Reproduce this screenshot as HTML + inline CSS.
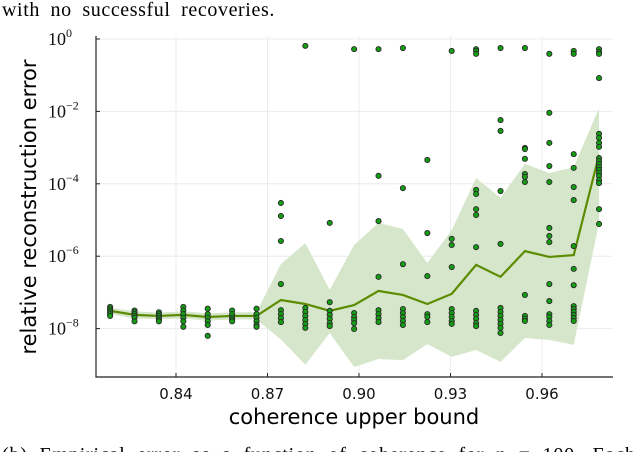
<!DOCTYPE html>
<html><head><meta charset="utf-8"><style>
html,body{margin:0;padding:0;background:#fff;width:640px;height:452px;overflow:hidden}
svg{display:block}
.serif{font-family:"Liberation Serif",serif}
.sans{font-family:"DejaVu Sans","Liberation Sans",sans-serif}
</style></head><body>
<svg id="chart" width="640" height="452" xmlns="http://www.w3.org/2000/svg">
<text class="serif" x="2" y="16" font-size="20" word-spacing="5" letter-spacing="0.6">with no successful recoveries.</text>
<text class="serif" x="2" y="461" font-size="20" word-spacing="6" letter-spacing="0.8">(b) Empirical error as a function of coherence for n = 100. Each dot</text>
<g id="grid"></g><g id="band"></g><g id="line"></g><g id="dots"></g><g id="axes"></g>
<text class="sans" x="354" y="424" font-size="21" text-anchor="middle">coherence upper bound</text>
<text class="sans" transform="translate(36,207) rotate(-90)" font-size="21" text-anchor="middle">relative reconstruction error</text>
</svg>
<script>
const xTicks=[0.84,0.87,0.90,0.93,0.96];
const yTicks=[0,-2,-4,-6,-8];
const coherence=[0.8184,0.8264,0.8344,0.8424,0.8504,0.8584,0.8664,0.8744,0.8824,0.8904,0.8984,0.9064,0.9144,0.9224,0.9304,0.9384,0.9464,0.9544,0.9624,0.9704,0.9787];
const medianLog=[-7.51,-7.62,-7.65,-7.62,-7.68,-7.65,-7.65,-7.21,-7.32,-7.51,-7.35,-6.96,-7.07,-7.32,-7.04,-6.24,-6.57,-5.86,-6.02,-5.97,-3.20];
const upperLog=[-7.42,-7.52,-7.56,-7.52,-7.58,-7.55,-7.55,-6.22,-5.64,-6.93,-5.69,-5.08,-5.25,-6.19,-5.28,-3.84,-4.39,-3.45,-3.70,-3.54,-1.91];
const lowerLog=[-7.60,-7.72,-7.74,-7.72,-7.78,-7.75,-7.75,-8.30,-9.00,-8.12,-9.06,-8.84,-8.87,-8.43,-8.78,-8.59,-8.92,-8.26,-8.31,-8.45,-5.08];
const pointsLog=[
[-7.40,-7.45,-7.50,-7.55,-7.60,-7.65],
[-7.50,-7.55,-7.60,-7.65,-7.70,-7.80],
[-7.55,-7.60,-7.65,-7.70,-7.75,-7.80],
[-7.40,-7.50,-7.60,-7.70,-7.80,-7.95],
[-7.45,-7.60,-7.70,-7.80,-7.90,-8.20],
[-7.50,-7.60,-7.70,-7.75,-7.80],
[-7.45,-7.60,-7.70,-7.80,-7.90,-7.95],
[-4.53,-4.89,-5.58,-6.77,-7.49,-7.60,-7.71,-7.82],
[-0.19,-7.43,-7.54,-7.65,-7.76,-7.87,-7.98],
[-5.08,-7.27,-7.51,-7.62,-7.73,-7.85,-7.93],
[-0.28,-7.57,-7.68,-7.76,-7.85,-8.01],
[-0.28,-3.78,-5.03,-6.57,-7.49,-7.60,-7.71,-7.82],
[-0.25,-4.12,-6.22,-7.46,-7.57,-7.68,-7.79,-7.90],
[-3.34,-5.36,-6.55,-7.60,-7.68,-7.82],
[-0.33,-5.52,-5.69,-6.30,-7.46,-7.57,-7.68,-7.79,-7.87],
[-0.28,-0.33,-0.41,-4.17,-4.28,-4.70,-4.86,-5.75,-7.51,-7.62,-7.73,-7.85,-7.93],
[-0.25,-2.24,-2.54,-4.20,-5.66,-7.43,-7.54,-7.65,-7.76,-7.87,-7.98,-8.12],
[-0.25,-3.01,-3.04,-3.31,-3.73,-3.81,-3.95,-7.07,-7.65,-7.73,-7.79],
[-0.41,-2.04,-2.87,-3.51,-3.95,-5.22,-5.44,-5.61,-6.77,-7.24,-7.60,-7.68,-7.79,-7.90],
[-0.33,-0.41,-3.18,-3.56,-4.09,-4.45,-5.72,-6.35,-6.80,-7.38,-7.46,-7.54,-7.62,-7.71,-7.79],
[-0.28,-0.36,-0.41,-1.08,-2.62,-2.73,-2.87,-2.98,-3.29,-3.37,-3.45,-3.54,-3.62,-3.70,-3.78,-3.90,-3.98,-4.70,-5.11]
];
const NS='http://www.w3.org/2000/svg';
const X0=96,X1=613,Y0=36,Y1=377;
function xs(v){return 176+(v-0.84)*3050;}
function ys(l){return 39-l*36.2;}
function mk(t,a,p){const e=document.createElementNS(NS,t);for(const k in a)e.setAttribute(k,a[k]);p.appendChild(e);return e;}
const grid=document.getElementById('grid'),axes=document.getElementById('axes');
xTicks.forEach(t=>{
  const g=mk('line',{x1:xs(t),x2:xs(t),y1:Y0,y2:Y1,stroke:'#ececec','stroke-width':1},grid);
  
  
  const tk=mk('line',{x1:xs(t),x2:xs(t),y1:Y1,y2:Y1-4,stroke:'#222','stroke-width':1},axes);
  
  
  const tx=mk('text',{x:xs(t),y:399,'font-size':15,'text-anchor':'middle','class':'sans',fill:'#111'},axes);
  tx.textContent=t.toFixed(2);
  
  
});
yTicks.forEach(t=>{
  const g=mk('line',{x1:X0,x2:X1,y1:ys(t),y2:ys(t),stroke:'#ececec','stroke-width':1},grid);
  
  
  const tk=mk('line',{x1:X0,x2:X0+4,y1:ys(t),y2:ys(t),stroke:'#222','stroke-width':1},axes);
  
  
  const tx=mk('text',{x:48,y:ys(t)+6,'font-size':18,'class':'serif',fill:'#111'},axes);
  
  
  const b=mk('tspan',{},tx);b.textContent='10';
  const s=mk('tspan',{dy:-8,'font-size':12},tx);s.textContent=(t<0?'\u2212'+(-t):String(t));
});
const ax=mk('path',{d:`M${X0} ${Y0}V${Y1}H${X1}`,fill:'none',stroke:'#222','stroke-width':1.2},axes);


let d='';
coherence.forEach((c,i)=>{d+=(i?'L':'M')+xs(c)+' '+ys(upperLog[i]);});
for(let i=coherence.length-1;i>=0;i--)d+='L'+xs(coherence[i])+' '+ys(lowerLog[i]);
const band=mk('path',{d:d+'Z',fill:'#d6e6cb'},document.getElementById('band'));


let ld='';
coherence.forEach((c,i)=>{ld+=(i?'L':'M')+xs(c)+' '+ys(medianLog[i]);});
const ln=mk('path',{d:ld,fill:'none',stroke:'#5b8c00','stroke-width':2.2},document.getElementById('line'));


const dots=document.getElementById('dots');
pointsLog.forEach((col,i)=>col.forEach(v=>{
  const c=mk('circle',{cx:xs(coherence[i]),cy:ys(v),r:2.6,fill:'#139d13',stroke:'#2a2a2a','stroke-width':0.9},dots);
  
  
}));
</script>
</body></html>
